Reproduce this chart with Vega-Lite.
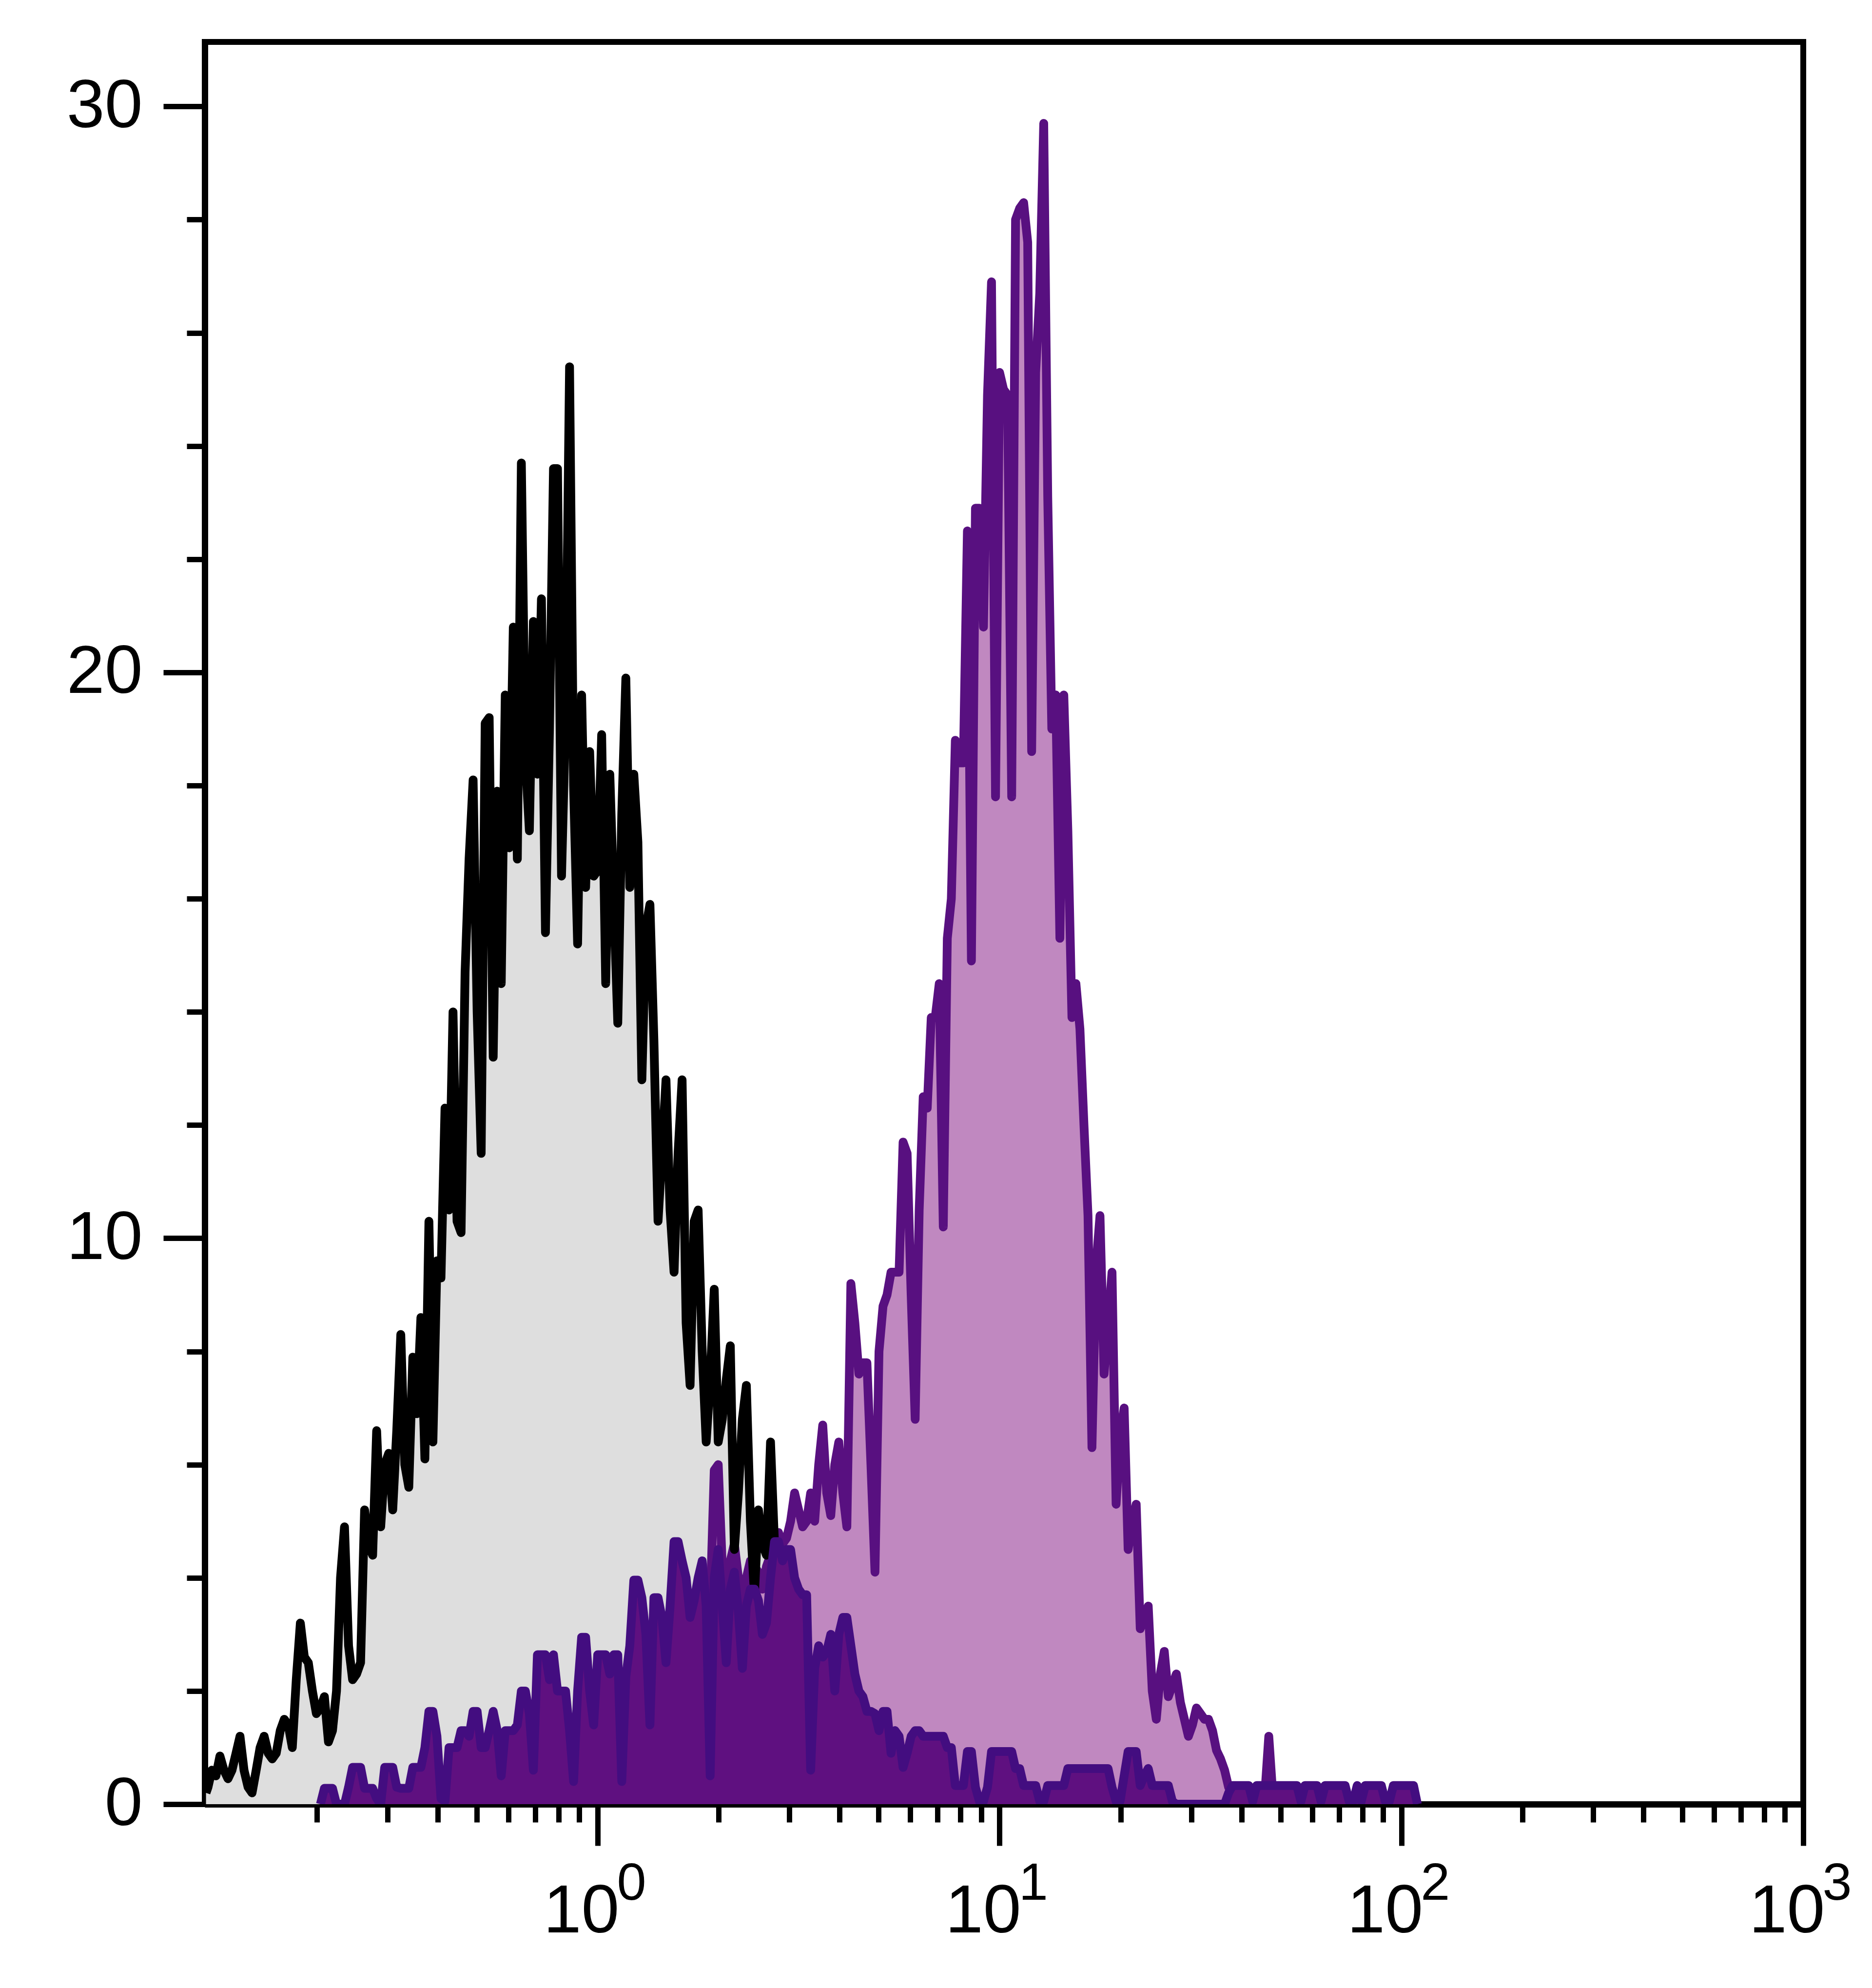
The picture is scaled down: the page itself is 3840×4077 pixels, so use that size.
{
"$schema":"https://vega.github.io/schema/vega-lite/v6.json",
"width":3279,"height":3614,
"autosize":{"type":"none"},
"padding":{"left":420,"top":86,"right":141,"bottom":377},
"background":"white",
"config":{"view":{"stroke":"#000000","strokeWidth":12}},
"datasets":{
"grey":[{"x":0.106,"y":0.2},{"x":0.1072,"y":0.3},{"x":0.1096,"y":0.6},{"x":0.1122,"y":0.5},{"x":0.1148,"y":0.85},{"x":0.1175,"y":0.6},{"x":0.1202,"y":0.45},{"x":0.1230,"y":0.6},{"x":0.1259,"y":0.9},{"x":0.1288,"y":1.2},{"x":0.1318,"y":0.6},{"x":0.1349,"y":0.3},{"x":0.1380,"y":0.2},{"x":0.1413,"y":0.6},{"x":0.1445,"y":1.0},{"x":0.1479,"y":1.2},{"x":0.1514,"y":0.9},{"x":0.1549,"y":0.8},{"x":0.1585,"y":0.9},{"x":0.1622,"y":1.3},{"x":0.1660,"y":1.5},{"x":0.1698,"y":1.4},{"x":0.1738,"y":1.0},{"x":0.1778,"y":2.2},{"x":0.1820,"y":3.2},{"x":0.1862,"y":2.6},{"x":0.1905,"y":2.5},{"x":0.1950,"y":2.0},{"x":0.1995,"y":1.6},{"x":0.2042,"y":1.7},{"x":0.2089,"y":1.9},{"x":0.2138,"y":1.1},{"x":0.2188,"y":1.3},{"x":0.2239,"y":2.0},{"x":0.2291,"y":4.0},{"x":0.2344,"y":4.9},{"x":0.2399,"y":2.8},{"x":0.2455,"y":2.2},{"x":0.2512,"y":2.3},{"x":0.2570,"y":2.5},{"x":0.2630,"y":5.2},{"x":0.2692,"y":4.6},{"x":0.2754,"y":4.4},{"x":0.2818,"y":6.6},{"x":0.2884,"y":4.9},{"x":0.2951,"y":6.0},{"x":0.3020,"y":6.2},{"x":0.3090,"y":5.2},{"x":0.3162,"y":6.6},{"x":0.3236,"y":8.3},{"x":0.3311,"y":6.0},{"x":0.3388,"y":5.6},{"x":0.3467,"y":7.9},{"x":0.3548,"y":6.9},{"x":0.3631,"y":8.6},{"x":0.3715,"y":6.1},{"x":0.3802,"y":10.3},{"x":0.3890,"y":6.4},{"x":0.3981,"y":9.6},{"x":0.4074,"y":9.3},{"x":0.4169,"y":12.3},{"x":0.4266,"y":10.5},{"x":0.4365,"y":14.0},{"x":0.4467,"y":10.3},{"x":0.4571,"y":10.1},{"x":0.4677,"y":14.7},{"x":0.4786,"y":16.7},{"x":0.4898,"y":18.1},{"x":0.5012,"y":14.0},{"x":0.5129,"y":11.5},{"x":0.5248,"y":19.1},{"x":0.5370,"y":19.2},{"x":0.5495,"y":13.2},{"x":0.5623,"y":17.9},{"x":0.5754,"y":14.5},{"x":0.5888,"y":19.6},{"x":0.6026,"y":16.9},{"x":0.6166,"y":20.8},{"x":0.6310,"y":16.7},{"x":0.6457,"y":23.7},{"x":0.6607,"y":18.5},{"x":0.6761,"y":17.2},{"x":0.6918,"y":20.9},{"x":0.7079,"y":18.2},{"x":0.7244,"y":21.3},{"x":0.7413,"y":15.4},{"x":0.7586,"y":19.0},{"x":0.7762,"y":23.6},{"x":0.7943,"y":23.6},{"x":0.8128,"y":16.4},{"x":0.8318,"y":19.2},{"x":0.8511,"y":25.4},{"x":0.8710,"y":18.0},{"x":0.8913,"y":15.2},{"x":0.9120,"y":19.6},{"x":0.9333,"y":16.2},{"x":0.9550,"y":18.6},{"x":0.9772,"y":16.4},{"x":1,"y":16.5},{"x":1.023,"y":18.9},{"x":1.047,"y":14.5},{"x":1.072,"y":18.2},{"x":1.096,"y":16.0},{"x":1.122,"y":13.8},{"x":1.148,"y":17.5},{"x":1.175,"y":19.9},{"x":1.202,"y":16.2},{"x":1.230,"y":18.2},{"x":1.259,"y":17.0},{"x":1.288,"y":12.8},{"x":1.318,"y":15.5},{"x":1.349,"y":15.9},{"x":1.380,"y":13.5},{"x":1.413,"y":10.3},{"x":1.445,"y":11.5},{"x":1.479,"y":12.8},{"x":1.514,"y":10.5},{"x":1.549,"y":9.4},{"x":1.585,"y":11.5},{"x":1.622,"y":12.8},{"x":1.660,"y":8.5},{"x":1.698,"y":7.4},{"x":1.738,"y":10.3},{"x":1.778,"y":10.5},{"x":1.820,"y":8.0},{"x":1.862,"y":6.4},{"x":1.905,"y":7.5},{"x":1.950,"y":9.1},{"x":1.995,"y":6.4},{"x":2.042,"y":6.8},{"x":2.089,"y":7.5},{"x":2.138,"y":8.1},{"x":2.188,"y":4.5},{"x":2.239,"y":5.5},{"x":2.291,"y":6.8},{"x":2.344,"y":7.4},{"x":2.399,"y":5.0},{"x":2.455,"y":3.7},{"x":2.512,"y":5.2},{"x":2.570,"y":4.6},{"x":2.630,"y":4.4},{"x":2.692,"y":6.4},{"x":2.754,"y":4.6},{"x":2.818,"y":3.5},{"x":2.884,"y":3.0},{"x":2.951,"y":2.5},{"x":3.020,"y":2.0},{"x":3.162,"y":1.5},{"x":3.388,"y":1.0},{"x":3.631,"y":0.5},{"x":3.981,"y":0}],
"stained":[{"x":1.738,"y":0},{"x":1.820,"y":1.5},{"x":1.905,"y":3.5},{"x":1.950,"y":5.9},{"x":1.995,"y":6.0},{"x":2.042,"y":4.2},{"x":2.089,"y":3.8},{"x":2.138,"y":4.3},{"x":2.188,"y":4.6},{"x":2.239,"y":4.0},{"x":2.291,"y":3.6},{"x":2.344,"y":4.0},{"x":2.399,"y":4.3},{"x":2.455,"y":4.2},{"x":2.512,"y":4.1},{"x":2.570,"y":3.8},{"x":2.630,"y":4.2},{"x":2.692,"y":4.4},{"x":2.754,"y":4.8},{"x":2.818,"y":4.8},{"x":2.884,"y":4.6},{"x":2.951,"y":4.7},{"x":3.020,"y":5.0},{"x":3.090,"y":5.5},{"x":3.162,"y":5.2},{"x":3.236,"y":4.9},{"x":3.311,"y":5.0},{"x":3.388,"y":5.5},{"x":3.467,"y":5.0},{"x":3.548,"y":6.0},{"x":3.631,"y":6.7},{"x":3.715,"y":5.5},{"x":3.802,"y":5.1},{"x":3.890,"y":6.0},{"x":3.981,"y":6.4},{"x":4.074,"y":5.5},{"x":4.169,"y":4.9},{"x":4.266,"y":9.2},{"x":4.365,"y":8.5},{"x":4.467,"y":7.6},{"x":4.571,"y":7.8},{"x":4.677,"y":7.8},{"x":4.786,"y":6.0},{"x":4.898,"y":4.1},{"x":5.012,"y":8.0},{"x":5.129,"y":8.8},{"x":5.248,"y":9.0},{"x":5.370,"y":9.4},{"x":5.495,"y":9.4},{"x":5.623,"y":9.4},{"x":5.754,"y":11.7},{"x":5.888,"y":11.5},{"x":6.026,"y":9.0},{"x":6.166,"y":6.8},{"x":6.310,"y":10.5},{"x":6.457,"y":12.5},{"x":6.607,"y":12.3},{"x":6.761,"y":13.9},{"x":6.918,"y":13.9},{"x":7.079,"y":14.5},{"x":7.244,"y":10.2},{"x":7.413,"y":15.3},{"x":7.586,"y":16.0},{"x":7.762,"y":18.8},{"x":7.943,"y":18.4},{"x":8.128,"y":18.4},{"x":8.318,"y":22.5},{"x":8.511,"y":14.9},{"x":8.710,"y":22.9},{"x":8.913,"y":22.9},{"x":9.120,"y":20.8},{"x":9.333,"y":24.9},{"x":9.550,"y":26.9},{"x":9.772,"y":17.8},{"x":10,"y":25.3},{"x":10.23,"y":25.0},{"x":10.47,"y":24.9},{"x":10.72,"y":17.8},{"x":10.96,"y":28.0},{"x":11.22,"y":28.2},{"x":11.48,"y":28.3},{"x":11.75,"y":27.6},{"x":12.02,"y":18.6},{"x":12.30,"y":25.3},{"x":12.59,"y":26.7},{"x":12.88,"y":29.7},{"x":13.18,"y":23.1},{"x":13.49,"y":19.0},{"x":13.80,"y":19.6},{"x":14.13,"y":15.3},{"x":14.45,"y":19.6},{"x":14.79,"y":17.2},{"x":15.14,"y":13.9},{"x":15.49,"y":14.5},{"x":15.85,"y":13.7},{"x":16.22,"y":12.0},{"x":16.60,"y":10.4},{"x":16.98,"y":6.3},{"x":17.38,"y":9.5},{"x":17.78,"y":10.4},{"x":18.20,"y":7.6},{"x":18.62,"y":8.5},{"x":19.05,"y":9.4},{"x":19.50,"y":5.3},{"x":19.95,"y":6.5},{"x":20.42,"y":7.0},{"x":20.89,"y":4.5},{"x":21.38,"y":5.0},{"x":21.88,"y":5.3},{"x":22.39,"y":3.1},{"x":22.91,"y":3.3},{"x":23.44,"y":3.5},{"x":23.99,"y":2.0},{"x":24.55,"y":1.5},{"x":25.12,"y":2.3},{"x":25.70,"y":2.7},{"x":26.30,"y":1.9},{"x":26.92,"y":2.1},{"x":27.54,"y":2.3},{"x":28.18,"y":1.8},{"x":28.84,"y":1.5},{"x":29.51,"y":1.2},{"x":30.20,"y":1.4},{"x":30.90,"y":1.7},{"x":31.62,"y":1.6},{"x":32.36,"y":1.5},{"x":33.11,"y":1.5},{"x":33.88,"y":1.3},{"x":34.67,"y":0.95},{"x":35.48,"y":0.8},{"x":36.31,"y":0.6},{"x":37.15,"y":0.3},{"x":38.02,"y":0.15},{"x":45.71,"y":0.15},{"x":46.77,"y":1.2},{"x":47.86,"y":0.15},{"x":50.12,"y":0}],
"dark":[{"x":0.2042,"y":0},{"x":0.2089,"y":0.28},{"x":0.2138,"y":0.28},{"x":0.2188,"y":0.28},{"x":0.2239,"y":0},{"x":0.2291,"y":0},{"x":0.2344,"y":0},{"x":0.2399,"y":0.3},{"x":0.2455,"y":0.65},{"x":0.2512,"y":0.65},{"x":0.2570,"y":0.65},{"x":0.2630,"y":0.28},{"x":0.2692,"y":0.28},{"x":0.2754,"y":0.28},{"x":0.2818,"y":0.1},{"x":0.2884,"y":0},{"x":0.2951,"y":0.65},{"x":0.3020,"y":0.65},{"x":0.3090,"y":0.65},{"x":0.3162,"y":0.3},{"x":0.3236,"y":0.28},{"x":0.3311,"y":0.28},{"x":0.3388,"y":0.28},{"x":0.3467,"y":0.65},{"x":0.3548,"y":0.65},{"x":0.3631,"y":0.65},{"x":0.3715,"y":1.0},{"x":0.3802,"y":1.64},{"x":0.3890,"y":1.64},{"x":0.3981,"y":1.2},{"x":0.4074,"y":0.1},{"x":0.4169,"y":0.05},{"x":0.4266,"y":1.0},{"x":0.4365,"y":1.0},{"x":0.4467,"y":1.0},{"x":0.4571,"y":1.3},{"x":0.4677,"y":1.3},{"x":0.4786,"y":1.2},{"x":0.4898,"y":1.64},{"x":0.5012,"y":1.64},{"x":0.5129,"y":1.0},{"x":0.5248,"y":1.0},{"x":0.5370,"y":1.3},{"x":0.5495,"y":1.64},{"x":0.5623,"y":1.3},{"x":0.5754,"y":0.5},{"x":0.5888,"y":1.3},{"x":0.6026,"y":1.3},{"x":0.6166,"y":1.3},{"x":0.6310,"y":1.4},{"x":0.6457,"y":2.0},{"x":0.6607,"y":2.0},{"x":0.6761,"y":1.6},{"x":0.6918,"y":0.6},{"x":0.7079,"y":2.64},{"x":0.7244,"y":2.64},{"x":0.7413,"y":2.64},{"x":0.7586,"y":2.2},{"x":0.7762,"y":2.64},{"x":0.7943,"y":2.0},{"x":0.8128,"y":2.0},{"x":0.8318,"y":2.0},{"x":0.8511,"y":1.3},{"x":0.8710,"y":0.4},{"x":0.8913,"y":2.0},{"x":0.9120,"y":2.95},{"x":0.9333,"y":2.95},{"x":0.9550,"y":2.0},{"x":0.9772,"y":1.4},{"x":1,"y":2.64},{"x":1.023,"y":2.64},{"x":1.047,"y":2.64},{"x":1.072,"y":2.3},{"x":1.096,"y":2.64},{"x":1.122,"y":2.64},{"x":1.148,"y":0.4},{"x":1.175,"y":2.25},{"x":1.202,"y":2.8},{"x":1.230,"y":3.96},{"x":1.259,"y":3.96},{"x":1.288,"y":3.65},{"x":1.318,"y":3.0},{"x":1.349,"y":1.4},{"x":1.380,"y":3.65},{"x":1.413,"y":3.65},{"x":1.445,"y":3.3},{"x":1.479,"y":2.5},{"x":1.514,"y":3.5},{"x":1.549,"y":4.64},{"x":1.585,"y":4.64},{"x":1.622,"y":4.3},{"x":1.660,"y":4.0},{"x":1.698,"y":3.3},{"x":1.738,"y":3.6},{"x":1.778,"y":4.0},{"x":1.820,"y":4.3},{"x":1.862,"y":3.5},{"x":1.905,"y":0.5},{"x":1.950,"y":4.0},{"x":1.995,"y":4.5},{"x":2.042,"y":3.5},{"x":2.089,"y":2.5},{"x":2.138,"y":3.8},{"x":2.188,"y":4.1},{"x":2.239,"y":3.4},{"x":2.291,"y":2.4},{"x":2.344,"y":3.5},{"x":2.399,"y":3.8},{"x":2.455,"y":3.8},{"x":2.512,"y":3.6},{"x":2.570,"y":3.0},{"x":2.630,"y":3.2},{"x":2.692,"y":4.0},{"x":2.754,"y":4.64},{"x":2.818,"y":4.64},{"x":2.884,"y":4.3},{"x":2.951,"y":4.5},{"x":3.020,"y":4.5},{"x":3.090,"y":4.0},{"x":3.162,"y":3.8},{"x":3.236,"y":3.7},{"x":3.311,"y":3.7},{"x":3.388,"y":0.6},{"x":3.467,"y":2.4},{"x":3.548,"y":2.8},{"x":3.631,"y":2.6},{"x":3.715,"y":2.7},{"x":3.802,"y":3.0},{"x":3.890,"y":2.0},{"x":3.981,"y":3.0},{"x":4.074,"y":3.3},{"x":4.169,"y":3.3},{"x":4.266,"y":2.8},{"x":4.365,"y":2.3},{"x":4.467,"y":2.0},{"x":4.571,"y":1.9},{"x":4.677,"y":1.64},{"x":4.786,"y":1.64},{"x":4.898,"y":1.6},{"x":5.012,"y":1.3},{"x":5.129,"y":1.64},{"x":5.248,"y":1.64},{"x":5.370,"y":0.9},{"x":5.495,"y":1.3},{"x":5.623,"y":1.2},{"x":5.754,"y":0.65},{"x":5.888,"y":0.9},{"x":6.026,"y":1.2},{"x":6.166,"y":1.3},{"x":6.310,"y":1.3},{"x":6.457,"y":1.2},{"x":6.607,"y":1.2},{"x":6.761,"y":1.2},{"x":6.918,"y":1.2},{"x":7.079,"y":1.2},{"x":7.244,"y":1.2},{"x":7.413,"y":1.0},{"x":7.586,"y":1.0},{"x":7.762,"y":0.33},{"x":7.943,"y":0.33},{"x":8.128,"y":0.33},{"x":8.318,"y":0.93},{"x":8.511,"y":0.93},{"x":8.710,"y":0.3},{"x":8.913,"y":0.05},{"x":9.120,"y":0.05},{"x":9.333,"y":0.3},{"x":9.550,"y":0.93},{"x":9.772,"y":0.93},{"x":10,"y":0.93},{"x":10.23,"y":0.93},{"x":10.47,"y":0.93},{"x":10.72,"y":0.93},{"x":10.96,"y":0.63},{"x":11.22,"y":0.63},{"x":11.48,"y":0.33},{"x":11.75,"y":0.33},{"x":12.02,"y":0.33},{"x":12.30,"y":0.33},{"x":12.59,"y":0.05},{"x":12.88,"y":0.05},{"x":13.18,"y":0.33},{"x":13.49,"y":0.33},{"x":13.80,"y":0.33},{"x":14.13,"y":0.33},{"x":14.45,"y":0.33},{"x":14.79,"y":0.63},{"x":15.14,"y":0.63},{"x":15.49,"y":0.63},{"x":15.85,"y":0.63},{"x":16.22,"y":0.63},{"x":16.60,"y":0.63},{"x":16.98,"y":0.63},{"x":17.38,"y":0.63},{"x":17.78,"y":0.63},{"x":18.20,"y":0.63},{"x":18.62,"y":0.63},{"x":19.05,"y":0.3},{"x":19.50,"y":0.05},{"x":19.95,"y":0.05},{"x":20.42,"y":0.5},{"x":20.89,"y":0.93},{"x":21.38,"y":0.93},{"x":21.88,"y":0.93},{"x":22.39,"y":0.33},{"x":22.91,"y":0.5},{"x":23.44,"y":0.63},{"x":23.99,"y":0.33},{"x":24.55,"y":0.33},{"x":25.12,"y":0.33},{"x":25.70,"y":0.33},{"x":26.30,"y":0.33},{"x":26.92,"y":0.05},{"x":27.54,"y":0},{"x":36.31,"y":0},{"x":37.15,"y":0.2},{"x":38.02,"y":0.33},{"x":38.90,"y":0.33},{"x":39.81,"y":0.33},{"x":40.74,"y":0.33},{"x":41.69,"y":0.33},{"x":42.66,"y":0.05},{"x":43.65,"y":0.33},{"x":44.67,"y":0.33},{"x":45.71,"y":0.33},{"x":46.77,"y":0.33},{"x":47.86,"y":0.33},{"x":48.98,"y":0.33},{"x":50.12,"y":0.33},{"x":51.29,"y":0.33},{"x":52.48,"y":0.33},{"x":53.70,"y":0.33},{"x":54.95,"y":0.33},{"x":56.23,"y":0.05},{"x":57.54,"y":0.33},{"x":58.88,"y":0.33},{"x":60.26,"y":0.33},{"x":61.66,"y":0.33},{"x":63.10,"y":0.05},{"x":64.57,"y":0.33},{"x":66.07,"y":0.33},{"x":67.61,"y":0.33},{"x":69.18,"y":0.33},{"x":70.79,"y":0.33},{"x":72.44,"y":0.33},{"x":74.13,"y":0.05},{"x":75.86,"y":0.05},{"x":77.62,"y":0.33},{"x":79.43,"y":0.05},{"x":81.28,"y":0.33},{"x":83.18,"y":0.33},{"x":85.11,"y":0.33},{"x":87.10,"y":0.33},{"x":89.13,"y":0.33},{"x":91.20,"y":0.05},{"x":93.33,"y":0.05},{"x":95.50,"y":0.33},{"x":97.72,"y":0.33},{"x":100,"y":0.33},{"x":102.3,"y":0.33},{"x":104.7,"y":0.33},{"x":107.2,"y":0.33},{"x":109.6,"y":0}]
},
"encoding":{
"y":{"field":"y","type":"quantitative","scale":{"domain":[0,31.14],"nice":false,"zero":true},
"axis":{"title":null,"values":[0,2,4,6,8,10,12,14,16,18,20,22,24,26,28,30],"grid":false,"domainColor":"#000000","domainWidth":13,"tickColor":"#000000","tickWidth":11,"tickSize":{"condition":{"test":"datum.value%10===0","value":85},"value":37},"labelExpr":"datum.value%10===0?datum.label:''","labelFont":"Liberation Sans","labelFontSize":140,"labelColor":"#000000","labelPadding":43,"labelLimit":0,"labelOverlap":false,"labelFlush":false,"labelBound":false}}
},
"layer":[
{"encoding":{"x":{"field":"x","type":"quantitative","scale":{"type":"log","domain":[0.10524,1000],"nice":false},
"axis":{"title":null,"orient":"bottom","values":[0.2,0.3,0.4,0.5,0.6,0.7,0.8,0.9,1,2,3,4,5,6,7,8,9,10,20,30,40,50,60,70,80,90,100,200,300,400,500,600,700,800,900,1000],"grid":false,"domainColor":"#000000","domainWidth":13,"tickColor":"#000000","tickWidth":11,"tickSize":{"condition":{"test":"datum.value==1||datum.value==10||datum.value==100||datum.value==1000","value":85},"value":37},"labelExpr":"datum.value==1||datum.value==10||datum.value==100||datum.value==1000?'10':''","labelFont":"Liberation Sans","labelFontSize":140,"labelColor":"#000000","labelPadding":66,"labelOffset":-34,"labelLimit":0,"labelOverlap":false,"labelFlush":false,"labelBound":false}}},
"layer":[
{"data":{"name":"grey"},"mark":{"type":"area","color":"#dedede","interpolate":"linear","clip":true}},
{"data":{"name":"stained"},"mark":{"type":"area","color":"#c088c0","interpolate":"linear","clip":true}},
{"data":{"name":"stained"},"mark":{"type":"line","color":"#581080","strokeWidth":18,"strokeJoin":"round","interpolate":"linear","clip":true}},
{"data":{"name":"grey"},"mark":{"type":"line","color":"#000000","strokeWidth":18,"strokeJoin":"round","interpolate":"linear","clip":true}},
{"data":{"name":"dark"},"mark":{"type":"area","color":"#5f1080","interpolate":"linear","clip":true}}
]},
{"data":{"name":"dark"},"mark":{"type":"line","color":"#430d80","strokeWidth":18,"strokeJoin":"round","interpolate":"linear","clip":true},
"encoding":{"x":{"field":"x","type":"quantitative","scale":{"type":"log","domain":[0.10524,1000],"nice":false},
"axis":{"title":null,"orient":"bottom","offset":0,"values":[1,10,100,1000],"domain":false,"ticks":false,"tickSize":0,"grid":false,"labelExpr":"datum.value==1?'0':datum.value==10?'1':datum.value==100?'2':'3'","labelFont":"Liberation Sans","labelFontSize":108,"labelColor":"#000000","labelPadding":110,"labelOffset":69,"labelLimit":0,"labelOverlap":false,"labelFlush":false,"labelBound":false}}}}
],
"resolve":{"axis":{"x":"independent"}}
}
